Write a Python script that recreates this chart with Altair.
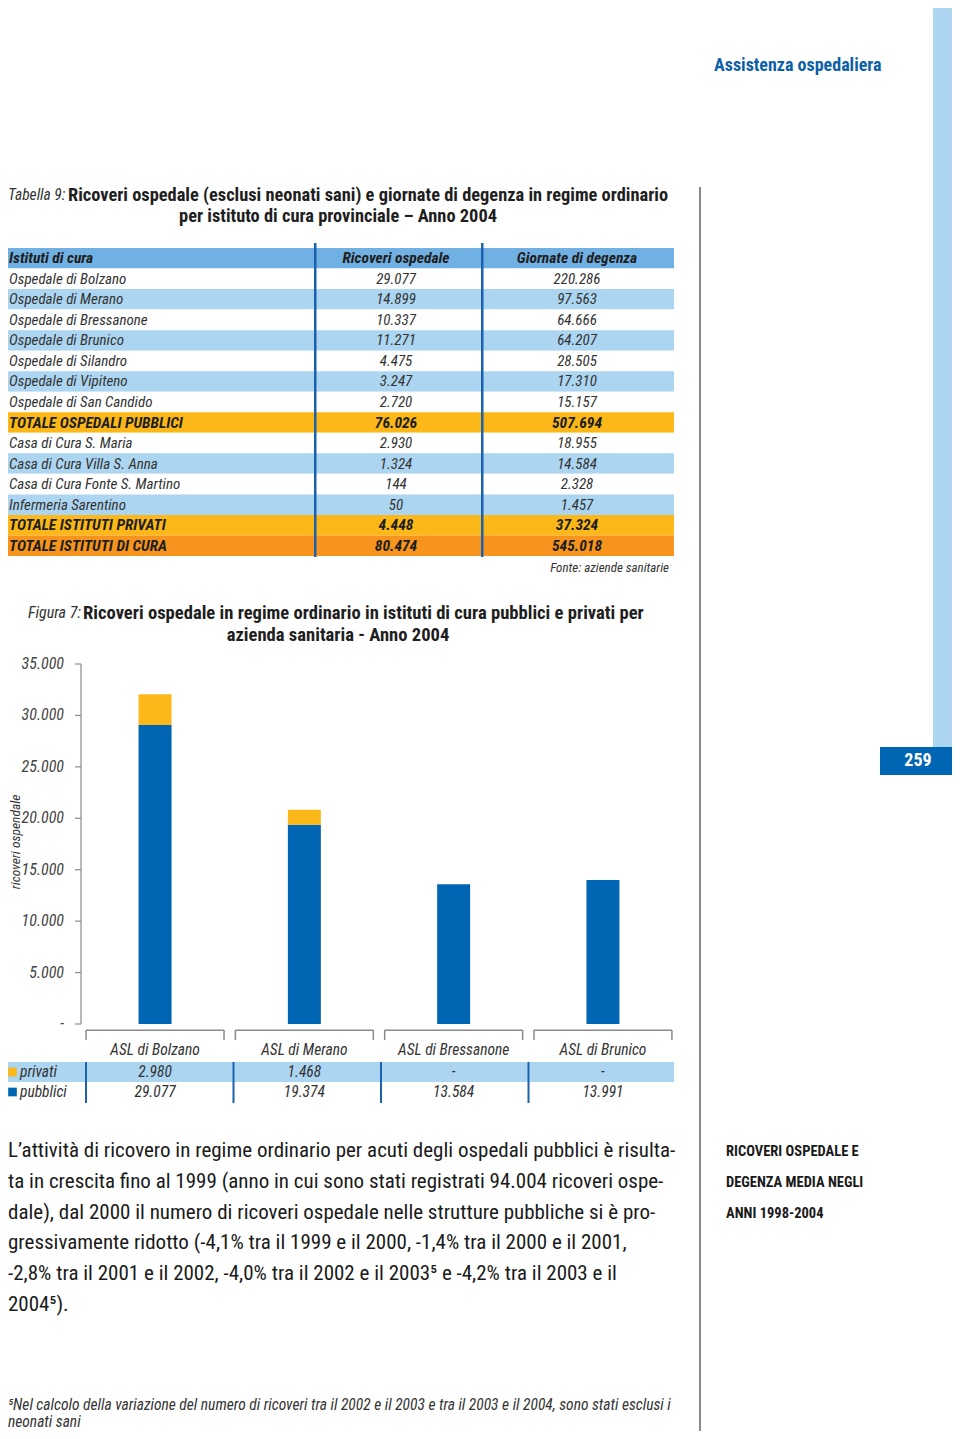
import altair as alt
import pandas as pd

# ---------------- data ----------------
table_rows = ["Istituti di cura", "Ospedale di Bolzano", "Ospedale di Merano", "Ospedale di Bressanone",
              "Ospedale di Brunico", "Ospedale di Silandro", "Ospedale di Vipiteno", "Ospedale di San Candido",
              "TOTALE OSPEDALI PUBBLICI", "Casa di Cura S. Maria", "Casa di Cura Villa S. Anna",
              "Casa di Cura Fonte S. Martino", "Infermeria Sarentino", "TOTALE ISTITUTI PRIVATI",
              "TOTALE ISTITUTI DI CURA"]
table_ricoveri = [None, 29077, 14899, 10337, 11271, 4475, 3247, 2720, 76026, 2930, 1324, 144, 50, 4448, 80474]
table_giornate = [None, 220286, 97563, 64666, 64207, 28505, 17310, 15157, 507694, 18955, 14584, 2328, 1457, 37324, 545018]
table_kind = ["head", "w", "b", "w", "b", "w", "b", "w", "tot", "w", "b", "w", "b", "tot", "grand"]
table_headers = ["Istituti di cura", "Ricoveri ospedale", "Giornate di degenza"]

categories = ["ASL di Bolzano", "ASL di Merano", "ASL di Bressanone", "ASL di Brunico"]
pubblici = [29077, 19374, 13584, 13991]
privati = [2980, 1468, 0, 0]
series = ["privati", "pubblici"]
y_ticks = [0, 5000, 10000, 15000, 20000, 25000, 30000, 35000]
y_tick_labels = ["-", "5.000", "10.000", "15.000", "20.000", "25.000", "30.000", "35.000"]

body_lines = [
    "L’attività di ricovero in regime ordinario per acuti degli ospedali pubblici è risulta-",
    "ta in crescita fino al 1999 (anno in cui sono stati registrati 94.004 ricoveri ospe-",
    "dale), dal 2000 il numero di ricoveri ospedale nelle strutture pubbliche si è pro-",
    "gressivamente ridotto (-4,1% tra il 1999 e il 2000, -1,4% tra il 2000 e il 2001,",
    "-2,8% tra il 2001 e il 2002, -4,0% tra il 2002 e il 2003⁵ e -4,2% tra il 2003 e il",
    "2004⁵).",
]
side_lines = ["RICOVERI OSPEDALE E", "DEGENZA MEDIA NEGLI", "ANNI 1998-2004"]
foot_lines = [
    "⁵Nel calcolo della variazione del numero di ricoveri tra il 2002 e il 2003 e tra il 2003 e il 2004, sono stati esclusi i",
    "neonati sani",
]

# ---------------- style ----------------
F = "Liberation Sans Narrow, Arial Narrow, Roboto Condensed, DejaVu Sans Condensed, sans-serif"
BLUE = "#0065b3"
YELLOW = "#fbb818"
LIGHT = "#acd5f1"
HEAD = "#70b0e2"
ORANGE = "#f7941d"
SEP = "#1a62ad"
TXT = "#2a2a2a"
GRAY = "#8a8a8a"

def px(x):
    return x - 8

def py(y):
    return y - 8

def fmt(v):
    if v is None:
        return ""
    if v == 0:
        return "-"
    return f"{v:,}".replace(",", ".")

one = pd.DataFrame({"t": [""]})

def txt(s, x, y, size=15, weight="normal", style="normal", color=TXT, align="left", angle=0):
    return alt.Chart(pd.DataFrame({"t": [s]})).mark_text(
        align=align, baseline="middle", fontSize=size, fontWeight=weight, fontStyle=style,
        color=color, font=F, angle=angle
    ).encode(x=alt.value(px(x)), y=alt.value(py(y)), text="t:N")

def box(x1, x2, y1, y2, color):
    return alt.Chart(one).mark_rect(color=color).encode(
        x=alt.value(px(x1)), x2=alt.value(px(x2)), y=alt.value(py(y1)), y2=alt.value(py(y2)))

layers = []

# page decorations
layers.append(box(933, 955, 0, 747, LIGHT))
layers.append(box(880, 955, 747, 775, BLUE))
layers.append(txt("259", 918, 761, size=18, weight="bold", color="white", align="center"))
layers.append(txt("Assistenza ospedaliera", 714, 66, size=18, weight="bold", color="#0d5fa8"))
layers.append(box(699, 701, 187, 1439, GRAY))

# ---------------- table ----------------
fill_map = {"head": HEAD, "w": "#ffffff", "b": LIGHT, "tot": YELLOW, "grand": ORANGE}
tdf = pd.DataFrame({
    "row": table_rows,
    "fill": [fill_map[k] for k in table_kind],
    "c1": table_rows,
    "c2": [table_headers[1] if k == "head" else fmt(v) for k, v in zip(table_kind, table_ricoveri)],
    "c3": [table_headers[2] if k == "head" else fmt(v) for k, v in zip(table_kind, table_giornate)],
    "bold": [k in ("head", "tot", "grand") for k in table_kind],
})
yrow = alt.Y("row:N", scale=alt.Scale(domain=table_rows, range=[py(248), py(556)], paddingInner=0, paddingOuter=0), axis=None)

layers.append(alt.Chart(tdf).mark_rect().encode(
    y=yrow, x=alt.value(px(4)), x2=alt.value(px(674)), color=alt.Color("fill:N", scale=None)))
for col, xpos, align in [("c1", 9, "left"), ("c2", 396, "center"), ("c3", 577, "center")]:
    for bold in (False, True):
        sub = tdf[tdf["bold"] == bold]
        layers.append(alt.Chart(sub).mark_text(
            align=align, baseline="middle", fontSize=15.5 if bold else 15, fontStyle="italic",
            fontWeight="bold" if bold else "normal", font=F, color="#1e1e1e" if bold else "#333333"
        ).encode(y=yrow, x=alt.value(px(xpos)), text=f"{col}:N"))
# column separators
layers.append(box(314, 316.5, 243, 557, SEP))
layers.append(box(481, 483.5, 243, 557, SEP))

layers.append(txt("Tabella 9:", 8, 195, size=15.5, style="italic", color="#333"))
layers.append(txt("Ricoveri ospedale (esclusi neonati sani) e giornate di degenza in regime ordinario",
                  68, 195, size=18.4, weight="bold", color="#1e1e1e"))
layers.append(txt("per istituto di cura provinciale – Anno 2004", 338, 216, size=18.4, weight="bold",
                  color="#1e1e1e", align="center"))
layers.append(txt("Fonte: aziende sanitarie", 669, 568, size=13, style="italic", color="#333", align="right"))

# ---------------- bar chart ----------------
layers.append(txt("Figura 7:", 28, 613, size=16, style="italic", color="#333"))
layers.append(txt("Ricoveri ospedale in regime ordinario in istituti di cura pubblici e privati per",
                  83, 613, size=18.6, weight="bold", color="#1e1e1e"))
layers.append(txt("azienda sanitaria - Anno 2004", 338, 635, size=18.6, weight="bold",
                  color="#1e1e1e", align="center"))

yscale = alt.Scale(domain=[0, 35000], range=[py(1024), py(664)], nice=False, zero=True)
xscale = alt.Scale(domain=categories, range=[px(80.4), px(677.6)], paddingInner=0.779, paddingOuter=0.3895)
xbr = alt.Scale(domain=categories, range=[px(80.4), px(677.6)], paddingInner=0.076, paddingOuter=0.038)
xsep = alt.Scale(domain=categories, range=[px(86), px(676)], paddingInner=0, paddingOuter=0)

bars = pd.DataFrame({
    "cat": categories * 2,
    "series": ["pubblici"] * 4 + ["privati"] * 4,
    "value": pubblici + privati,
    "ord": [0] * 4 + [1] * 4,
})
layers.append(alt.Chart(bars).mark_bar().encode(
    x=alt.X("cat:N", scale=xscale, axis=None),
    y=alt.Y("value:Q", scale=yscale, stack="zero", axis=None),
    color=alt.Color("series:N", scale=alt.Scale(domain=["pubblici", "privati"], range=[BLUE, YELLOW]), legend=None),
    order=alt.Order("ord:Q"),
))

# manual y axis
tick_df = pd.DataFrame({"v": y_ticks, "lab": y_tick_labels})
layers.append(alt.Chart(pd.DataFrame({"lo": [y_ticks[0]], "hi": [y_ticks[-1]]})).mark_rule(color=GRAY, strokeWidth=1.2).encode(
    x=alt.value(px(81)), y=alt.Y("lo:Q", scale=yscale, axis=None), y2="hi:Q"))
layers.append(alt.Chart(tick_df).mark_rule(color=GRAY, strokeWidth=1.2).encode(
    x=alt.value(px(75)), x2=alt.value(px(81)), y=alt.Y("v:Q", scale=yscale, axis=None)))
layers.append(alt.Chart(tick_df).mark_text(align="right", baseline="middle", fontSize=16, fontStyle="italic",
                                           font=F, color="#444").encode(
    x=alt.value(px(64)), y=alt.Y("v:Q", scale=yscale, axis=None), text="lab:N"))
layers.append(txt("ricoveri ospendale", 15.5, 842, size=13.5, style="italic", color="#333", align="center", angle=270))

# brackets under the categories
cdf = pd.DataFrame({"cat": categories, "pub": [fmt(v) for v in pubblici], "pri": [fmt(v) for v in privati]})
layers.append(alt.Chart(cdf).mark_rect(color=GRAY).encode(
    x=alt.X("cat:N", scale=xbr, axis=None), y=alt.value(py(1029.5)), y2=alt.value(py(1031))))
for bp in (0, 1):
    layers.append(alt.Chart(cdf).mark_rule(color=GRAY, strokeWidth=1.5).encode(
        x=alt.X("cat:N", scale=xbr, axis=None, bandPosition=bp), y=alt.value(py(1030)), y2=alt.value(py(1040))))

# data table under the chart
layers.append(box(0, 674, 1062, 1082, LIGHT))
for field, ypos in [("cat", 1050), ("pri", 1072), ("pub", 1092)]:
    layers.append(alt.Chart(cdf).mark_text(align="center", baseline="middle", fontSize=15.5, fontStyle="italic",
                                           font=F, color="#333").encode(
        x=alt.X("cat:N", scale=xscale, axis=None), y=alt.value(py(ypos)), text=f"{field}:N"))
layers.append(alt.Chart(cdf).mark_rule(color=SEP, strokeWidth=2).encode(
    x=alt.X("cat:N", scale=xsep, axis=None, bandPosition=0), y=alt.value(py(1062)), y2=alt.value(py(1103))))

leg = pd.DataFrame({"s": series, "col": [YELLOW, BLUE]})
yleg = alt.Y("s:N", scale=alt.Scale(domain=series, range=[py(1062), py(1102)], paddingInner=0, paddingOuter=0), axis=None)
layers.append(alt.Chart(leg).mark_square(size=75, opacity=1).encode(
    x=alt.value(px(12.5)), y=yleg, color=alt.Color("col:N", scale=None)))
layers.append(alt.Chart(leg).mark_text(align="left", baseline="middle", fontSize=15.5, fontStyle="italic",
                                       font=F, color="#333").encode(
    x=alt.value(px(20)), y=yleg, text="s:N"))

# ---------------- body text ----------------
for i, line in enumerate(body_lines):
    layers.append(txt(line, 8, 1151 + i * 30.8, size=21, color="#1a1a1a"))
for i, line in enumerate(side_lines):
    layers.append(txt(line, 726, 1152 + i * 31, size=14.5, weight="bold", color="#1a1a1a"))
for i, line in enumerate(foot_lines):
    layers.append(txt(line, 8, 1405 + i * 17, size=15.5, style="italic", color="#333"))

chart = alt.layer(*layers).resolve_scale(x="independent", y="independent", color="independent").properties(
    width=944, height=1423, autosize="none", padding=0
).configure_view(stroke=None)

chart.save("out.html", embed_options={"renderer": "svg", "actions": False})
